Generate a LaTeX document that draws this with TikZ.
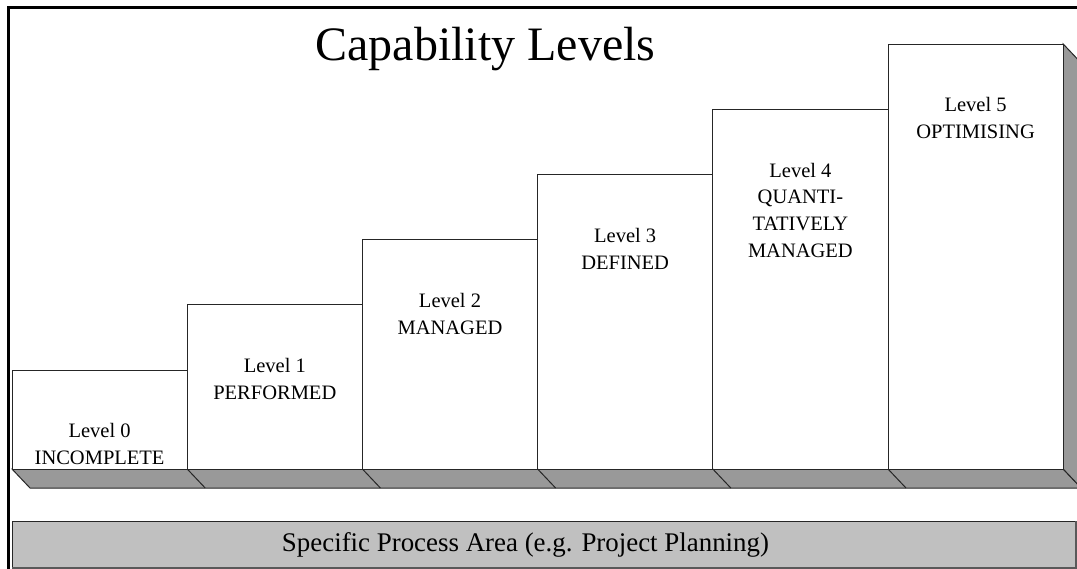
\documentclass[tikz,border=0pt]{standalone}
\usepackage{fontspec}
\setmainfont{Liberation Serif}
\definecolor{basegray}{HTML}{999999}
\definecolor{barfill}{HTML}{C0C0C0}
\definecolor{edge}{HTML}{262626}
\begin{document}
\begin{tikzpicture}[x=1pt,y=-1pt,
  lvl/.style={draw=edge, line width=1pt, fill=white, minimum width=175.2pt, anchor=south west, inner sep=0pt, outer sep=0pt},
  lbl/.style={align=center, anchor=north, inner sep=0pt, font=\fontsize{20.5}{26.7}\selectfont},
  face/.style={fill=basegray, draw=edge, line width=1pt},
  divider/.style={draw=edge, line width=1pt},
]
\useasboundingbox (0,0) rectangle (1077,568);
\clip (0,0) rectangle (1077,568);
% frame
\draw[line width=3pt] (8,570) -- (8,7) -- (1080,7);
% title
\node[font=\fontsize{48}{56}\selectfont, anchor=base, inner sep=0pt] (title) at (485.5,60) {Capability Levels};
% base strip and right face
\path[face] (12,469) -- (1063.2,469) -- (1081.2,488) -- (30,488) -- cycle;
\path[face] (1063.2,44) -- (1081.2,63) -- (1081.2,488) -- (1063.2,469) -- cycle;
% level boxes
\node[lvl, minimum height=99pt] (b0) at (12,469) {};
\node[lvl, minimum height=164.2pt] (b1) at (187.2,469) {};
\node[lvl, minimum height=229.4pt] (b2) at (362.4,469) {};
\node[lvl, minimum height=294.6pt] (b3) at (537.6,469) {};
\node[lvl, minimum height=359.8pt] (b4) at (712.8,469) {};
\node[lvl, minimum height=425pt] (b5) at (888,469) {};
% dividers on the base
\foreach \n in {b1,b2,b3,b4,b5}
  \draw[divider] (\n.south west) -- ++(18,19);
% labels
\node[lbl] (t0) at ([yshift=-53.5pt]b0.north) {Level 0\\INCOMPLETE};
\node[lbl] (t1) at ([yshift=-53.5pt]b1.north) {Level 1\\PERFORMED};
\node[lbl] (t2) at ([yshift=-53.5pt]b2.north) {Level 2\\MANAGED};
\node[lbl] (t3) at ([yshift=-53.5pt]b3.north) {Level 3\\DEFINED};
\node[lbl] (t4) at ([yshift=-53.5pt]b4.north) {Level 4\\QUANTI-\\TATIVELY\\MANAGED};
\node[lbl] (t5) at ([yshift=-53.5pt]b5.north) {Level 5\\OPTIMISING};
% bottom bar
\node[draw=edge, fill=barfill, line width=1pt, minimum width=1063pt, minimum height=46pt, anchor=north west, inner sep=0pt] (bar) at (12,521) {};
\draw[black!65, line width=2pt] (bar.north east) -- (bar.south east) -- (bar.south west);
\node[font=\fontsize{26.9}{32}\selectfont, anchor=base, inner sep=0pt] (bartext) at (525.5,551) {Specific Process Area (e.g. Project Planning)};
\end{tikzpicture}
\end{document}
